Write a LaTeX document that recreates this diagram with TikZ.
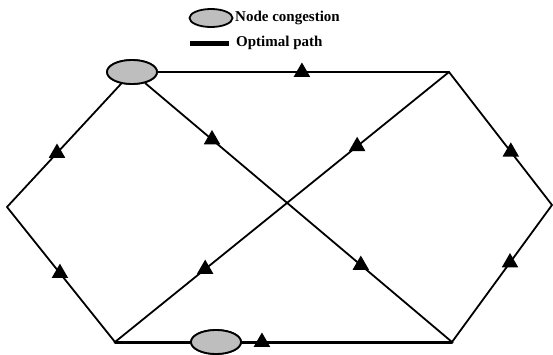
\documentclass[tikz,border=0pt]{standalone}
\usepackage{fontspec}
\setmainfont{Liberation Serif}
\usetikzlibrary{shapes.geometric,calc}
\definecolor{congest}{RGB}{190,190,190}
\tikzset{
  edge/.style={line width=1.8pt, line cap=round, line join=round},
  optedge/.style={line width=3pt},
  congnode/.style={ellipse, draw, line width=1.8pt, fill=congest, minimum width=50pt, minimum height=24pt, inner sep=0pt},
  tri/.style={regular polygon, regular polygon sides=3, fill=black, minimum size=19pt, inner sep=0pt},
  legtext/.style={anchor=west, inner sep=0pt, font=\fontsize{15}{17}\selectfont\bfseries}
}
\begin{document}
\begin{tikzpicture}[x=1pt,y=-1pt]
\useasboundingbox (0,0) rectangle (553,354);
% vertices
\coordinate (B) at (449,72);
\coordinate (L) at (7,207);
\coordinate (R) at (552,205);
\coordinate (C) at (115,342);
\coordinate (D) at (452,342);
\node[congnode] (A) at (132,72) {};
\node[congnode] (E) at (216,342) {};
% edges
\draw[edge] (A) -- (B);
\draw[edge] (A) -- (L);
\draw[edge] (L) -- (C);
\draw[edge] (A) -- (D);
\draw[edge] (B) -- (C);
\draw[edge] (B) -- (R);
\draw[edge] (R) -- (D);
\draw[edge,optedge] (C) -- (E);
\draw[edge,optedge] (E) -- (D);
\node[congnode] at (A) {};
\node[congnode] at (E) {};
% triangles
\node[tri] (t1) at ($(A)!0.536!(B)$) {};
\node[tri] (t2) at ($(A)!0.6!(L)$) {};
\node[tri] (t3) at ($(L)!0.49!(C)$) {};
\node[tri] (t4) at ($(A)!0.25!(D)$) {};
\node[tri] (t5) at ($(A)!0.715!(D)$) {};
\node[tri] (t6) at ($(B)!0.275!(C)$) {};
\node[tri] (t7) at ($(B)!0.73!(C)$) {};
\node[tri] (t8) at ($(B)!0.6!(R)$) {};
\node[tri] (t9) at ($(R)!0.42!(D)$) {};
\node[tri] (t10) at ($(C)!0.436!(D)$) {};
% legend
\node[congnode, minimum width=43pt, minimum height=18pt] (lege) at (211,18) {};
\node[legtext] (legt1) at (235,18) {Node congestion};
\coordinate (bar1) at (190,43);
\coordinate (bar2) at (229,43);
\draw[line width=5pt] (bar1) -- (bar2);
\node[legtext] (legt2) at (236,43) {Optimal path};
\end{tikzpicture}
\end{document}
